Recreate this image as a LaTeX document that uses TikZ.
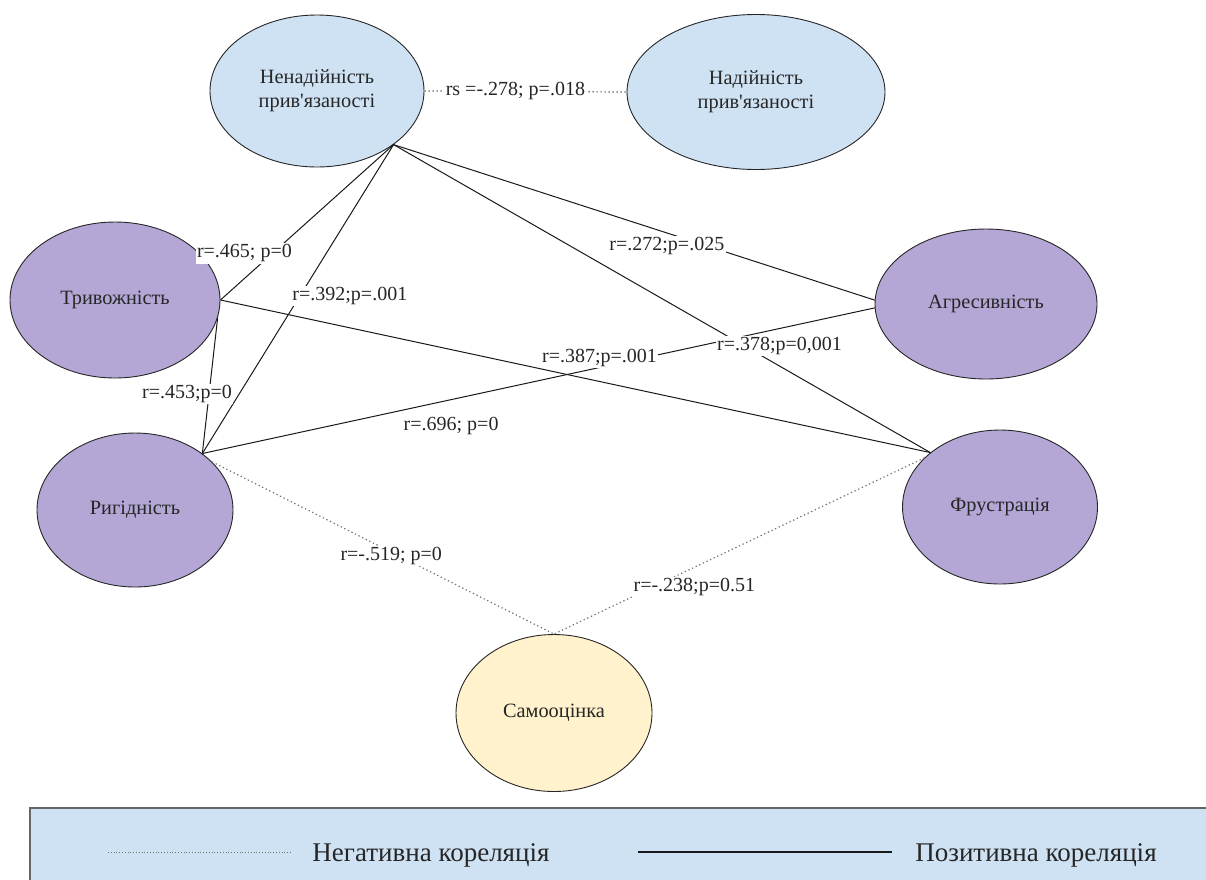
\documentclass[tikz,border=0pt]{standalone}
\usepackage{fontspec}
\setmainfont{Liberation Serif}[Ligatures=TeXOff]
\usetikzlibrary{shapes.geometric}
\definecolor{attblue}{HTML}{CFE2F3}
\definecolor{emopurple}{HTML}{B4A7D6}
\definecolor{selfyellow}{HTML}{FFF2CC}
\begin{document}
\begin{tikzpicture}[x=1pt, y=-1pt,
  state/.style={ellipse, draw=black!85, line width=0.9pt, inner sep=0pt, align=center, text=black!85, font=\fontsize{20.3}{24}\selectfont},
  pos corr/.style={black!90, line width=1pt},
  neg corr/.style={black!55, line width=1.2pt, dash pattern=on 1.3pt off 2.7pt},
  coef/.style={fill=white, inner sep=1.5pt, text=black!85, font=\fontsize{20}{23}\selectfont},
  legend/.style={inner sep=0pt, text=black!85, font=\fontsize{27}{30}\selectfont}]
\useasboundingbox (0,0) rectangle (1206,879);
% states
\node[state, fill=attblue, minimum width=214, minimum height=152] (nenad) at (317,91) {Ненадійність\\прив'язаності};
\node[state, fill=attblue, minimum width=258, minimum height=155] (nad) at (756,92) {Надійність\\прив'язаності};
\node[state, fill=emopurple, minimum width=210, minimum height=156] (tryv) at (115,300) {Тривожність};
\node[state, fill=emopurple, minimum width=196, minimum height=154] (ryg) at (135,510) {Ригідність};
\node[state, fill=emopurple, minimum width=222, minimum height=150] (agr) at (986,304) {Агресивність};
\node[state, fill=emopurple, minimum width=195, minimum height=154] (frus) at (1000,507) {Фрустрація};
\node[state, fill=selfyellow, minimum width=196, minimum height=157] (samo) at (554,713) {Самооцінка};
% correlations
\draw[neg corr] (nenad.east) -- (nad.west) node[coef, pos=0.45] (c1) {rs =-.278; p=.018};
\draw[pos corr] (ryg.40) -- (agr.182) node[coef, pos=0.37, yshift=-26] (c7) {r=.696; p=0};
\draw[pos corr] (nenad.-35) -- (tryv.east) node[coef, pos=0.7, xshift=-28] (c2) {r=.465; p=0};
\draw[pos corr] (nenad.-35) -- (ryg.40) node[coef, pos=0.49, xshift=50] (c3) {r=.392;p=.001};
\draw[pos corr] (nenad.-35) -- (agr.178) node[coef, pos=0.568, yshift=-13] (c4) {r=.272;p=.025};
\draw[pos corr] (tryv.-10) -- (ryg.40) node[coef, pos=0.56, xshift=-22] (c6) {r=.453;p=0};
\draw[pos corr] (tryv.east) -- (frus.142) node[coef, pos=0.534, yshift=24] (c8) {r=.387;p=.001};
\draw[pos corr] (nenad.-35) -- (frus.142) node[coef, pos=0.719, yshift=20] (c5) {r=.378;p=0,001};
\draw[neg corr] (ryg.32) -- (samo.north) node[coef, pos=0.524, yshift=-4] (c9) {r=-.519; p=0};
\draw[neg corr] (frus.147) -- (samo.north) node[coef, pos=0.621, yshift=-20] (c10) {r=-.238;p=0.51};
% legend
\filldraw[fill=attblue, draw=black!60, line width=1.5pt] (30,808) rectangle (1230,900);
\coordinate (negA) at (108,852);
\coordinate (negB) at (292,852);
\draw[neg corr, line width=1pt, dash pattern=on 1pt off 1.8pt] (negA) -- (negB);
\node[legend] (negtxt) at (431,855) {Негативна кореляція};
\coordinate (posA) at (638,852);
\coordinate (posB) at (892,852);
\draw[pos corr, line width=1.6pt] (posA) -- (posB);
\node[legend] (postxt) at (1036,855) {Позитивна кореляція};
\end{tikzpicture}
\end{document}
